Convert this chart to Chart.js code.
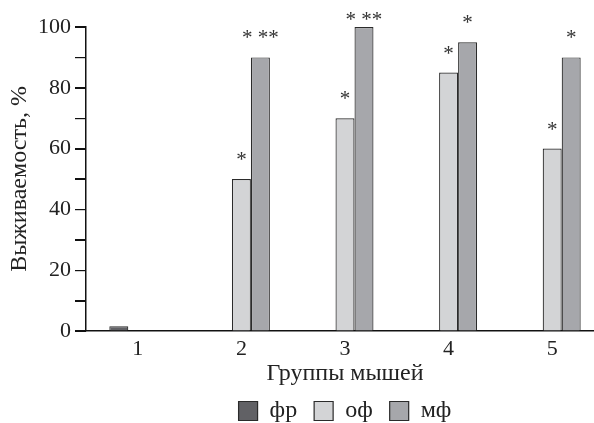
<!DOCTYPE html>
<html>
<head>
<meta charset="utf-8">
<script src="https://cdn.jsdelivr.net/npm/chart.js@4/dist/chart.umd.min.js"></script>
<style>
  html, body { margin: 0; padding: 0; background: #fff; overflow: hidden; }
  #wrap { width: 604px; height: 423px; }
</style>
</head>
<body>
<div id="wrap"><canvas id="survivalChart" width="604" height="423"></canvas></div>
<script>
// --- Data ---
const groups = ["1", "2", "3", "4", "5"];
const seriesNames = ["фр", "оф", "мф"];
const frValues = [1.6, 0, 0, 0, 0];
const ofValues = [0, 50, 70, 85, 60];
const mfValues = [0, 90, 100, 95, 90];
// significance marks above bars
const ofStars = ["", "*", "*", "*", "*"];
const mfStars = ["", "* **", "* **", "*", "*"];
const yLabels = [0, 20, 40, 60, 80, 100];

const serif = "'Liberation Serif', 'Times New Roman', serif";
const ink = "#222";

// --- Stars plugin ---
const starsPlugin = {
  id: "stars",
  afterDatasetsDraw(chart) {
    const ctx = chart.ctx;
    const top = chart.chartArea.top;
    ctx.save();
    ctx.fillStyle = "#333";
    ctx.font = "21px " + serif;
    ctx.textAlign = "center";
    ctx.textBaseline = "alphabetic";
    [[1, ofStars], [2, mfStars]].forEach(([di, marks]) => {
      const meta = chart.getDatasetMeta(di);
      meta.data.forEach((bar, i) => {
        if (!marks[i]) return;
        const y = Math.max(bar.y - 23, top - 11);
        ctx.fillText(marks[i], bar.x, y + 10);
      });
    });
    ctx.restore();
  }
};

// --- Outer tick marks on the y axis ---
const yTickMarks = {
  id: "yTickMarks",
  afterDraw(chart) {
    const y = chart.scales.y;
    const ctx = chart.ctx;
    ctx.save();
    ctx.strokeStyle = "#111";
    ctx.lineWidth = 1.2;
    ctx.beginPath();
    y.ticks.forEach(t => {
      const py = Math.round(y.getPixelForValue(t.value)) + 0.5;
      ctx.moveTo(y.right - 11, py);
      ctx.lineTo(y.right, py);
    });
    ctx.stroke();
    ctx.restore();
  }
};

const ctx = document.getElementById("survivalChart").getContext("2d");
new Chart(ctx, {
  type: "bar",
  data: {
    labels: groups,
    datasets: [
      { label: seriesNames[0], data: frValues, backgroundColor: "#616165" },
      { label: seriesNames[1], data: ofValues, backgroundColor: "#d3d4d6" },
      { label: seriesNames[2], data: mfValues, backgroundColor: "#a6a7ab" }
    ].map(d => Object.assign(d, { borderColor: "#2b2b2b", borderWidth: 1.2, borderSkipped: "bottom" }))
  },
  options: {
    responsive: false,
    animation: false,
    devicePixelRatio: 1,
    datasets: { bar: { categoryPercentage: 0.55, barPercentage: 1 } },
    layout: { padding: { top: 27, left: 0, right: 0, bottom: -10 } },
    plugins: {
      tooltip: { enabled: false },
      legend: {
        position: "bottom",
        fullSize: false,
        labels: {
          color: ink,
          font: { family: serif, size: 24 },
          boxWidth: 19,
          boxHeight: 19,
          padding: 17,
          generateLabels: chart => chart.data.datasets.map((d, i) => ({
            text: d.label,
            fillStyle: d.backgroundColor,
            strokeStyle: "#2b2b2b",
            lineWidth: 1.2,
            datasetIndex: i,
            fontColor: ink
          }))
        }
      }
    },
    scales: {
      x: {
        grid: { display: true, drawOnChartArea: false, drawTicks: false },
        border: { color: "#111", width: 1.5 },
        ticks: { color: ink, font: { family: serif, size: 22, lineHeight: 1 }, padding: 7 },
        title: {
          display: true,
          text: "Группы мышей",
          color: ink,
          font: { family: serif, size: 24, lineHeight: 1 },
          padding: { top: -5, bottom: -4 }
        }
      },
      y: {
        min: 0,
        max: 100,
        afterFit: s => { s.width = 86; },
        grid: {
          display: true,
          drawOnChartArea: false,
          color: "#111",
          tickLength: 11,
          lineWidth: 1.2
        },
        border: { color: "#111", width: 1.5 },
        ticks: {
          stepSize: 10,
          autoSkip: false,
          color: ink,
          font: { family: serif, size: 22 },
          padding: 4,
          callback: v => yLabels.includes(v) ? String(v) : ""
        },
        title: {
          display: true,
          text: "Выживаемость, %",
          color: ink,
          font: { family: serif, size: 24, lineHeight: 1 },
          padding: { top: 8, bottom: 0 }
        }
      }
    }
  },
  plugins: [starsPlugin, yTickMarks]
});
</script>
</body>
</html>
